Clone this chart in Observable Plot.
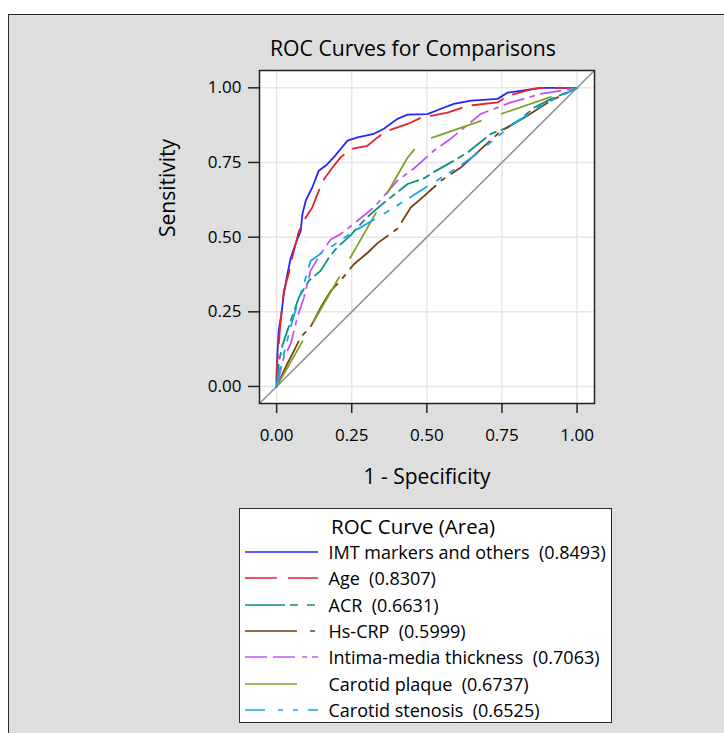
<!DOCTYPE html>
<html>
<head>
<meta charset="utf-8">
<script src="https://cdn.jsdelivr.net/npm/d3@7"></script>
<script src="https://cdn.jsdelivr.net/npm/@observablehq/plot@0.6"></script>
<style>
  html, body { margin: 0; padding: 0; background: #ffffff; width: 724px; height: 733px; overflow: hidden; }
  body { position: relative; font-family: "Open Sans", sans-serif; color: #000; }
  #frame { position: absolute; left: 8px; top: 14px; right: -4px; bottom: -4px; background: #dedede; border: 1.5px solid #2a2a2a; }
  #title { position: absolute; left: 0; width: 826px; top: 34px; text-align: center; font-size: 21.2px; line-height: 28px; white-space: pre; }
  #chart { position: absolute; left: 0; top: 0; }
  #legend { position: absolute; left: 239px; top: 508px; width: 373px; height: 215px; box-sizing: border-box;
            background: #fff; border: 1.5px solid #2a2a2a; padding-top: 4px; }
  #legend .lt { height: 26px; line-height: 26px; font-size: 20.5px; padding-left: 91px; white-space: pre; }
  #legend .row { height: 26.3px; display: flex; align-items: center; font-size: 18px; white-space: pre; }
  #legend .row svg { margin-left: 4.5px; margin-right: 11px; flex: none; }
</style>
</head>
<body>
<div id="frame"></div>
<div id="title"></div>
<div id="chart"></div>
<div id="legend"></div>
<script>
// ---------------- data ----------------
const titleText = "ROC Curves for Comparisons";
const xLabel = "1 - Specificity";
const yLabel = "Sensitivity";
const legendTitle = "ROC Curve (Area)";

const seriesNames = ["IMT markers and others", "Age", "ACR", "Hs-CRP",
                     "Intima-media thickness", "Carotid plaque", "Carotid stenosis"];
const seriesAreas = ["0.8493", "0.8307", "0.6631", "0.5999", "0.7063", "0.6737", "0.6525"];

const tickValues = [0, 0.25, 0.5, 0.75, 1];
const tickLabels = ["0.00", "0.25", "0.50", "0.75", "1.00"];

// [1 - specificity, sensitivity]
const imtPts = [[0,0],[0,0.03],[0.002,0.098],[0.007,0.187],[0.016,0.244],[0.024,0.31],[0.036,0.377],
  [0.047,0.43],[0.063,0.478],[0.08,0.52],[0.086,0.578],[0.097,0.622],[0.108,0.645],[0.119,0.667],
  [0.14,0.722],[0.163,0.739],[0.19,0.767],[0.213,0.795],[0.236,0.823],[0.269,0.834],[0.324,0.846],
  [0.357,0.863],[0.402,0.896],[0.436,0.91],[0.502,0.912],[0.547,0.93],[0.59,0.946],[0.647,0.957],
  [0.736,0.963],[0.769,0.984],[0.88,1.0],[1,1]];
const agePts = [[0,0],[0,0.053],[0.01,0.18],[0.019,0.277],[0.024,0.32],[0.04,0.377],[0.052,0.432],
  [0.074,0.52],[0.097,0.566],[0.119,0.6],[0.136,0.645],[0.158,0.695],[0.186,0.733],[0.213,0.767],
  [0.247,0.795],[0.302,0.806],[0.336,0.834],[0.369,0.856],[0.436,0.879],[0.48,0.9],[0.547,0.913],
  [0.569,0.917],[0.636,0.94],[0.736,0.951],[0.769,0.973],[0.857,0.997],[0.89,1],[1,1]];
const acrPts = [[0,0],[0.007,0.077],[0.019,0.137],[0.036,0.187],[0.047,0.22],[0.074,0.298],
  [0.108,0.355],[0.147,0.388],[0.174,0.432],[0.202,0.466],[0.247,0.507],[0.269,0.533],[0.307,0.572],
  [0.357,0.615],[0.436,0.678],[0.491,0.697],[0.53,0.722],[0.59,0.756],[0.636,0.784],[0.713,0.846],
  [0.769,0.867],[0.813,0.896],[0.857,0.934],[0.902,0.957],[1,1]];
const crpPts = [[0,0],[0.036,0.077],[0.058,0.12],[0.08,0.165],[0.113,0.2],[0.147,0.265],[0.18,0.32],
  [0.213,0.355],[0.258,0.41],[0.302,0.447],[0.336,0.48],[0.402,0.528],[0.447,0.6],[0.486,0.633],
  [0.547,0.689],[0.613,0.733],[0.747,0.856],[0.824,0.9],[0.913,0.957],[1,1]];
const intimaPts = [[0,0],[0.024,0.098],[0.047,0.143],[0.069,0.232],[0.091,0.298],[0.113,0.388],
  [0.147,0.445],[0.18,0.492],[0.213,0.51],[0.269,0.555],[0.324,0.6],[0.402,0.689],[0.457,0.73],
  [0.524,0.79],[0.58,0.83],[0.68,0.913],[0.78,0.951],[0.88,0.98],[1,1]];
const plaquePts = [[0,0],[0.435,0.765],[0.48,0.82],[1,1]];
const stenosisPts = [[0,0],[0.007,0.043],[0.047,0.2],[0.069,0.277],[0.091,0.344],[0.113,0.42],
  [0.147,0.445],[0.258,0.52],[0.347,0.572],[0.48,0.656],[0.602,0.733],[0.658,0.773],[0.78,0.873],
  [0.88,0.94],[1,1]];

const curves = [imtPts, agePts, acrPts, crpPts, intimaPts, plaquePts, stenosisPts];

// ---------------- styles ----------------
const colors = ["#2424ff", "#e8212b", "#0a8f82", "#74420f", "#c055f5", "#84a024", "#12a6f5"];
const plotDash = [null, "32,11", "22,6,6,6", "50,8,4,8", "20,7,4,7", "52,22", "20,12,5,10,5,10"];
const legendDash = [null, "32,11", "40,5,8,9,8,9", "52,13,5,13", "22,6,22,7,5,5,6,9", "52,30", "20,13,5,10,5,10"];
const axisDomain = [-0.057, 1.058];

// ---------------- build ----------------
document.getElementById("title").textContent = titleText;

const rows = [];
curves.forEach((pts, i) => pts.forEach(([x, y]) => rows.push({series: seriesNames[i], x, y})));
const diag = [axisDomain[0], axisDomain[1]].map(v => ({x: v, y: v}));
const fmt = d => tickLabels[tickValues.indexOf(d)];

const chart = Plot.plot({
  width: 724,
  height: 500,
  marginLeft: 259,
  marginRight: 130,
  marginTop: 70,
  marginBottom: 97,
  style: {background: "transparent", color: "#000", fontFamily: "Open Sans", fontSize: "17px", overflow: "visible"},
  x: {domain: axisDomain},
  y: {domain: axisDomain},
  marks: [
    Plot.frame({fill: "#ffffff"}),
    Plot.gridX(tickValues, {stroke: "#e6e6e6", strokeOpacity: 1, strokeWidth: 1.5}),
    Plot.gridY(tickValues, {stroke: "#e6e6e6", strokeOpacity: 1, strokeWidth: 1.5}),
    Plot.line(diag, {x: "x", y: "y", stroke: "#8c8c8c", strokeWidth: 1.5, clip: true}),
    ...seriesNames.map((name, i) => Plot.line(rows.filter(r => r.series === name), {
      x: "x", y: "y", stroke: colors[i], strokeWidth: 1.8, strokeDasharray: plotDash[i]
    })),
    Plot.frame({stroke: "#222", strokeWidth: 1.5}),
    Plot.axisX(tickValues, {tickFormat: fmt, tickSize: 10, tickPadding: 15, strokeWidth: 1.5, stroke: "#222",
      label: null, fontSize: 17}),
    Plot.axisY(tickValues, {tickFormat: fmt, tickSize: 11, tickPadding: 7, strokeWidth: 1.5, stroke: "#222",
      label: null, fontSize: 17}),
    Plot.text([xLabel], {text: d => d, frameAnchor: "bottom", dy: 74, lineAnchor: "middle",
      fontSize: 21, fill: "#000"}),
    Plot.text([yLabel], {text: d => d, frameAnchor: "left", dx: -91, rotate: -90, lineAnchor: "middle",
      fontSize: 21, fill: "#000"})
  ]
});
document.getElementById("chart").appendChild(chart);

// legend
const legend = document.getElementById("legend");
const lt = document.createElement("div");
lt.className = "lt";
lt.textContent = legendTitle;
legend.appendChild(lt);
seriesNames.forEach((name, i) => {
  const row = document.createElement("div");
  row.className = "row";
  const svg = d3.create("svg").attr("width", 73).attr("height", 6);
  svg.append("line").attr("x1", 0).attr("x2", 73).attr("y1", 3).attr("y2", 3)
    .attr("stroke", colors[i]).attr("stroke-width", 1.6)
    .attr("stroke-dasharray", legendDash[i]);
  row.appendChild(svg.node());
  const span = document.createElement("span");
  span.textContent = name + "  (" + seriesAreas[i] + ")";
  row.appendChild(span);
  legend.appendChild(row);
});
</script>
</body>
</html>
